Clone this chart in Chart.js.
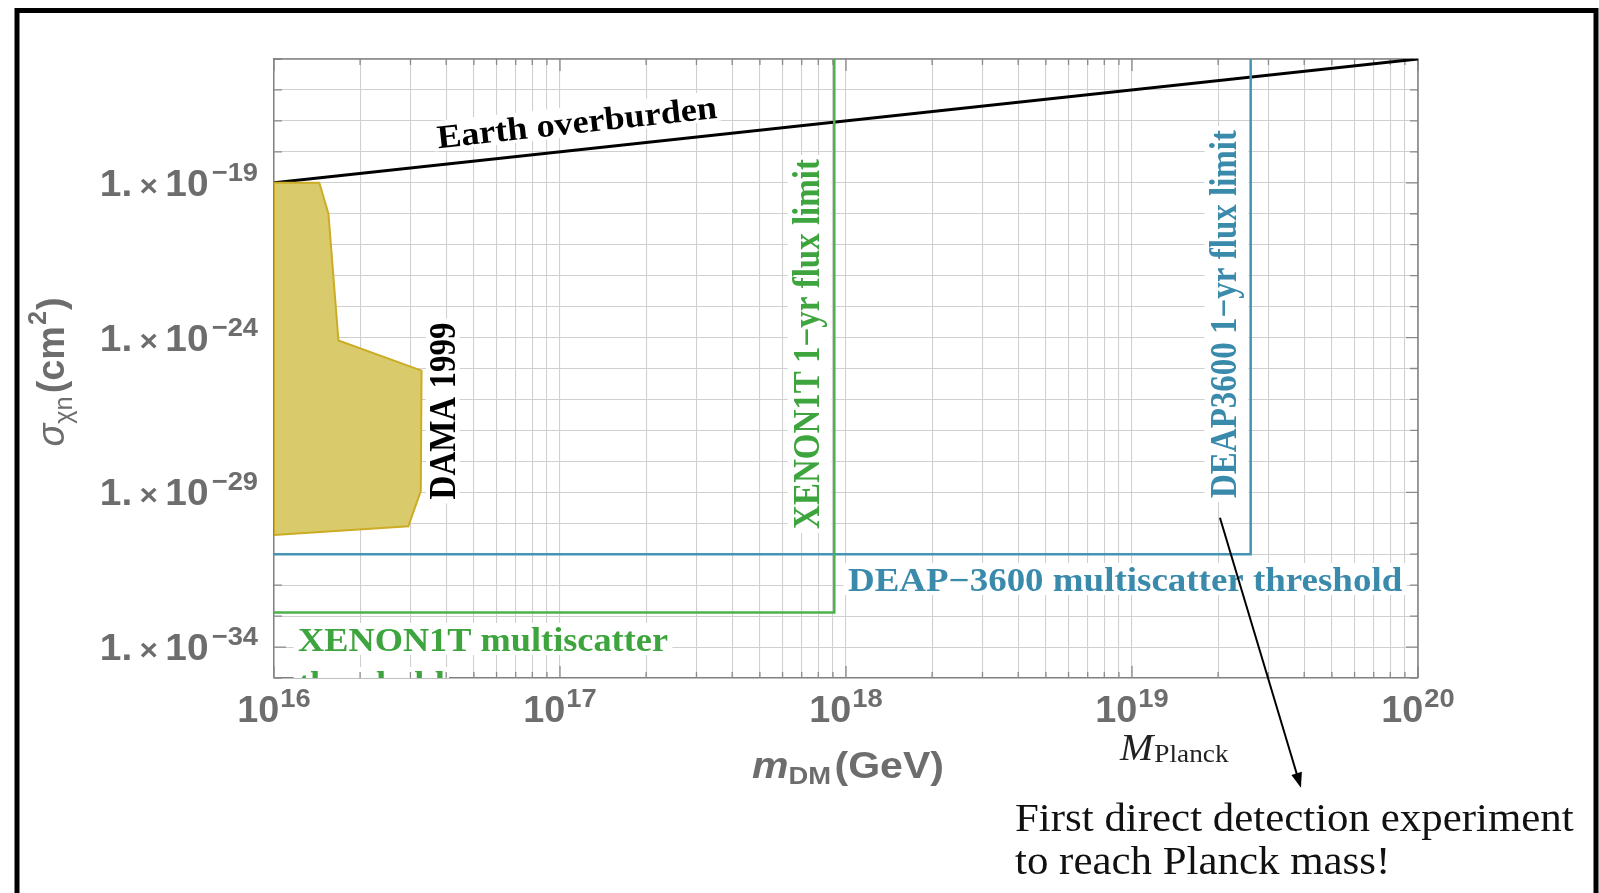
<!DOCTYPE html>
<html><head><meta charset="utf-8">
<script src="https://cdn.jsdelivr.net/npm/chart.js@4.4.1/dist/chart.umd.min.js"></script>
<style>html,body{margin:0;padding:0;background:#fff;overflow:hidden}#wrap{width:1599px;height:893px;position:relative}</style>
</head><body><div id="wrap"><canvas id="c"></canvas></div>
<script>
// ---------- data ----------
const xRange = [1e16, 1e20];
const yRange = [1e-35, 1e-15];
const xTickValues = [1e16, 1e17, 1e18, 1e19, 1e20];
const xTickExps = ['16', '17', '18', '19', '20'];
const yTickValues = [1e-19, 1e-24, 1e-29, 1e-34];
const yTickExps = ['\u221219', '\u221224', '\u221229', '\u221234'];
const earthX = [1e16, 1e20];
const earthY = [1e-19, 1e-15];
const xenonX = [1e16, 9.1e17, 9.1e17];
const xenonY = [1.3e-33, 1.3e-33, 1e-15];
const deapX = [1e16, 2.6e19, 2.6e19];
const deapY = [1e-31, 1e-31, 1e-15];
const damaX = [1e16, 1.44e16, 1.55e16, 1.68e16, 3.28e16, 3.26e16, 2.95e16, 1e16, 1e16];
const damaY = [1e-19, 1e-19, 1e-20, 8e-25, 8.5e-26, 1.1e-29, 8e-31, 4.2e-31, 1e-19];
const arrowStart = {x: 2.03e19, y: 1.5e-30};

// grid values (log decades and minors)
const xGrid = [];
for (let i = 0; i < xTickValues.length - 1; i++) for (let k = 1; k <= 9; k++) xGrid.push(k * xTickValues[i]);
xGrid.push(xTickValues[xTickValues.length - 1]);
const yGrid = [];
for (let e = -35; e <= -15; e++) yGrid.push(Number('1e' + e));

const pts = (xs, ys) => xs.map((x, i) => ({x: x, y: ys[i]}));

const GREEN = 'rgb(76,178,76)', GREEN_T = 'rgb(62,165,62)';
const BLUE = 'rgb(70,148,180)', BLUE_T = 'rgb(58,138,172)';
const GRAY_T = '#6d6d6d';
const SERIF = '"Liberation Serif", "Times New Roman", serif';
const SANS = '"Liberation Sans", Arial, sans-serif';
const DEG = Math.PI / 180;

function drawRich(ctx, o) {
  ctx.save();
  if (o.clip) { ctx.beginPath(); ctx.rect(o.clip.left, o.clip.top, o.clip.right - o.clip.left, o.clip.bottom - o.clip.top); ctx.clip(); }
  ctx.translate(o.x, o.y);
  ctx.rotate(o.rot || 0);
  ctx.scale(o.sx || 1, o.sy || 1);
  ctx.textBaseline = 'alphabetic'; ctx.textAlign = 'left';
  let w = 0, asc = 0, desc = 0;
  const ms = o.pieces.map(p => { ctx.font = p.font; return ctx.measureText(p.t); });
  ms.forEach((m, i) => { const p = o.pieces[i]; w += (p.gap || 0) + m.width;
    asc = Math.max(asc, m.actualBoundingBoxAscent - (p.dy || 0));
    desc = Math.max(desc, m.actualBoundingBoxDescent + (p.dy || 0)); });
  const x0 = o.align === 'center' ? -w / 2 : (o.align === 'right' ? -w : 0);
  if (o.bg) { const pad = o.pad == null ? 4 : o.pad; ctx.fillStyle = '#fff';
    ctx.fillRect(x0 - pad, -asc - pad, w + 2 * pad, asc + desc + 2 * pad); }
  let cx = x0;
  o.pieces.forEach((p, i) => { cx += (p.gap || 0); ctx.font = p.font; ctx.fillStyle = p.color || o.color; ctx.fillText(p.t, cx, p.dy || 0); cx += ms[i].width; });
  ctx.restore();
}

const annot = {
  id: 'annot',
  beforeDraw(chart) {
    const ctx = chart.ctx;
    ctx.save();
    ctx.fillStyle = '#fff'; ctx.fillRect(0, 0, chart.width, chart.height);
    ctx.strokeStyle = '#000'; ctx.lineWidth = 5;
    ctx.strokeRect(17, 10.5, 1579, 900);
    ctx.restore();
  },
  beforeDatasetsDraw(chart) {
    const ctx = chart.ctx, a = chart.chartArea, xs = chart.scales.x, ys = chart.scales.y;
    const sb = 'bold 33px ' + SERIF;
    drawRich(ctx, {x: 578, y: 133, rot: -6.18 * DEG, sx: 1.1, align: 'center', color: '#000', bg: true, pad: 3,
      pieces: [{t: 'Earth overburden', font: sb}]});
    drawRich(ctx, {x: 298, y: 651, sx: 1.1, align: 'left', color: GREEN_T, bg: true, pad: 4, clip: a,
      pieces: [{t: 'XENON1T multiscatter', font: sb}]});
    drawRich(ctx, {x: 298, y: 695, sx: 1.1, align: 'left', color: GREEN_T, bg: true, pad: 4, clip: a,
      pieces: [{t: 'threshold', font: sb}]});
    drawRich(ctx, {x: 848, y: 591, sx: 1.12, align: 'left', color: BLUE_T, bg: true, pad: 4,
      pieces: [{t: 'DEAP\u22123600 multiscatter threshold', font: sb}]});
    drawRich(ctx, {x: 455, y: 411, rot: -90 * DEG, sy: 1.12, align: 'center', color: '#000', bg: true, pad: 4,
      pieces: [{t: 'DAMA 1999', font: sb}]});
    drawRich(ctx, {x: 819, y: 344, rot: -90 * DEG, sy: 1.12, align: 'center', color: GREEN_T, bg: true, pad: 4,
      pieces: [{t: 'XENON1T 1\u2212yr flux limit', font: sb}]});
    drawRich(ctx, {x: 1236, y: 314, rot: -90 * DEG, sy: 1.12, align: 'center', color: BLUE_T, bg: true, pad: 4,
      pieces: [{t: 'DEAP3600 1\u2212yr flux limit', font: sb}]});
    ctx.save();
    ctx.strokeStyle = '#8a8a8a'; ctx.lineWidth = 1.3;
    ctx.beginPath();
    xGrid.forEach(v => {
      const px = xs.getPixelForValue(v);
      const major = Math.abs(Math.log10(v) - Math.round(Math.log10(v))) < 1e-9;
      const L = major ? 12 : 6;
      ctx.moveTo(px, a.bottom); ctx.lineTo(px, a.bottom - L);
      ctx.moveTo(px, a.top); ctx.lineTo(px, a.top + L);
    });
    yGrid.forEach(v => {
      const py = ys.getPixelForValue(v);
      const major = yTickValues.some(t => Math.abs(Math.log10(t) - Math.log10(v)) < 1e-9);
      const L = major ? 12 : 8;
      ctx.moveTo(a.left, py); ctx.lineTo(a.left + L, py);
      ctx.moveTo(a.right, py); ctx.lineTo(a.right - L, py);
    });
    ctx.stroke();
    ctx.lineWidth = 1.5; ctx.strokeStyle = '#808080';
    ctx.beginPath(); ctx.moveTo(a.left, a.top); ctx.lineTo(a.right, a.top); ctx.lineTo(a.right, a.bottom); ctx.stroke();
    ctx.restore();
  },
  afterDraw(chart) {
    const ctx = chart.ctx, xs = chart.scales.x, ys = chart.scales.y, a = chart.chartArea;
    const tb = 'bold 36px ' + SANS, tsup = 'bold 26px ' + SANS;
    xTickValues.forEach((v, i) => {
      drawRich(ctx, {x: xs.getPixelForValue(v), y: 722, sx: 1.05, align: 'center', color: GRAY_T,
        pieces: [{t: '10', font: tb}, {t: xTickExps[i], font: tsup, dy: -15, gap: 1}]});
    });
    yTickValues.forEach((v, i) => {
      drawRich(ctx, {x: 258, y: ys.getPixelForValue(v) + 13, sx: 1.05, align: 'right', color: GRAY_T,
        pieces: [{t: '1.', font: 'bold 37px ' + SANS}, {t: '\u00d7', font: 'bold 30px ' + SANS, gap: 7},
                 {t: '10', font: 'bold 37px ' + SANS, gap: 7}, {t: yTickExps[i], font: 'bold 26px ' + SANS, dy: -15, gap: 3}]});
    });
    drawRich(ctx, {x: (a.left + a.right) / 2 + 2, y: 778, sx: 1.14, align: 'center', color: GRAY_T,
      pieces: [{t: 'm', font: 'italic bold 36px ' + SANS}, {t: 'DM', font: 'bold 24px ' + SANS, dy: 6},
               {t: '(GeV)', font: 'bold 36px ' + SANS, gap: 3}]});
    drawRich(ctx, {x: 64, y: 372, rot: -90 * DEG, sx: 1.05, sy: 1.1, align: 'center', color: GRAY_T,
      pieces: [{t: '\u03c3', font: 'italic 36px ' + SANS}, {t: '\u03c7n', font: '24px ' + SANS, dy: 7},
               {t: '(cm', font: 'bold 36px ' + SANS, gap: 3}, {t: '2', font: 'bold 24px ' + SANS, dy: -16, gap: 1},
               {t: ')', font: 'bold 36px ' + SANS, gap: 1}]});
    drawRich(ctx, {x: 1120, y: 760, sx: 1.05, align: 'left', color: '#222',
      pieces: [{t: 'M', font: 'italic 38px ' + SERIF}, {t: 'Planck', font: '26px ' + SERIF, dy: 2, gap: 1}]});
    drawRich(ctx, {x: 1015, y: 831, sx: 1.1, align: 'left', color: '#111',
      pieces: [{t: 'First direct detection experiment', font: '39px ' + SERIF}]});
    drawRich(ctx, {x: 1015, y: 874, sx: 1.1, align: 'left', color: '#111',
      pieces: [{t: 'to reach Planck mass!', font: '39px ' + SERIF}]});
    const x1 = xs.getPixelForValue(arrowStart.x), y1 = ys.getPixelForValue(arrowStart.y);
    const x2 = x1 + 81, y2 = y1 + 270;
    const ang = Math.atan2(y2 - y1, x2 - x1);
    ctx.save();
    ctx.strokeStyle = '#000'; ctx.fillStyle = '#000'; ctx.lineWidth = 2;
    ctx.beginPath(); ctx.moveTo(x1, y1); ctx.lineTo(x2 - 10 * Math.cos(ang), y2 - 10 * Math.sin(ang)); ctx.stroke();
    ctx.beginPath(); ctx.moveTo(x2, y2);
    ctx.lineTo(x2 - 15 * Math.cos(ang) + 5.5 * Math.sin(ang), y2 - 15 * Math.sin(ang) - 5.5 * Math.cos(ang));
    ctx.lineTo(x2 - 15 * Math.cos(ang) - 5.5 * Math.sin(ang), y2 - 15 * Math.sin(ang) + 5.5 * Math.cos(ang));
    ctx.closePath(); ctx.fill();
    ctx.restore();
  }
};

const gridOpts = {color: '#d0d0d0', lineWidth: 1.1, drawTicks: false};
new Chart(document.getElementById('c'), {
  type: 'line',
  data: {datasets: [
    {label: 'DAMA 1999', data: pts(damaX, damaY), fill: 'shape', backgroundColor: 'rgb(217,203,108)',
     borderColor: 'rgb(204,172,36)', borderWidth: 2, pointRadius: 0, tension: 0},
    {label: 'XENON1T', data: pts(xenonX, xenonY), fill: false, borderColor: GREEN, borderWidth: 2.5, pointRadius: 0, tension: 0},
    {label: 'DEAP-3600', data: pts(deapX, deapY), fill: false, borderColor: BLUE, borderWidth: 2.5, pointRadius: 0, tension: 0},
    {label: 'Earth overburden', data: pts(earthX, earthY), fill: false, borderColor: '#000', borderWidth: 3, pointRadius: 0, tension: 0}
  ]},
  options: {
    responsive: true, maintainAspectRatio: false, animation: false, events: [],
    layout: {padding: {left: 0, top: 59, right: 181, bottom: 0}},
    plugins: {legend: {display: false}, tooltip: {enabled: false}},
    scales: {
      x: {type: 'logarithmic', min: xRange[0], max: xRange[1], position: 'bottom',
          afterBuildTicks: s => { s.ticks = xGrid.map(v => ({value: v})); },
          afterFit: s => { s.height = 215; },
          ticks: {display: false, autoSkip: false}, grid: gridOpts,
          border: {display: true, color: '#808080', width: 1.5}},
      y: {type: 'logarithmic', min: yRange[0], max: yRange[1],
          afterBuildTicks: s => { s.ticks = yGrid.map(v => ({value: v})); },
          afterFit: s => { s.width = 274; },
          ticks: {display: false, autoSkip: false}, grid: gridOpts,
          border: {display: true, color: '#808080', width: 1.5}}
    }
  },
  plugins: [annot]
});
</script></body></html>
